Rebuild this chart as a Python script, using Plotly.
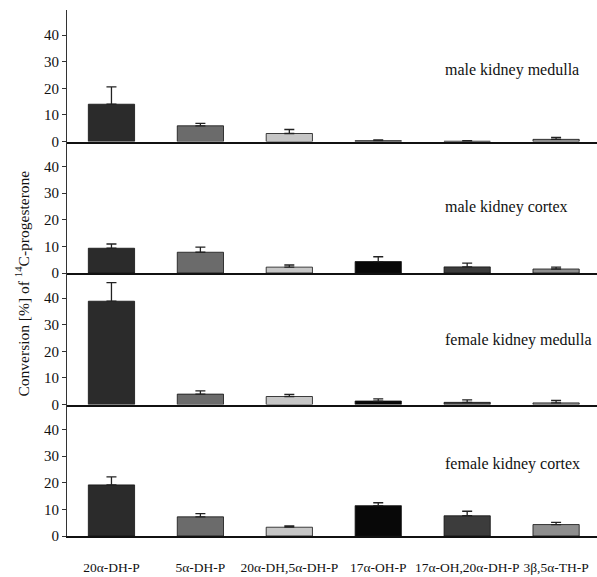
import plotly.graph_objects as go
from plotly.subplots import make_subplots

categories = ["20α-DH-P", "5α-DH-P", "20α-DH,5α-DH-P", "17α-OH-P", "17α-OH,20α-DH-P", "3β,5α-TH-P"]
panel_titles = ["male kidney medulla", "male kidney cortex", "female kidney medulla", "female kidney cortex"]

male_medulla = [14.0, 5.9, 3.0, 0.3, 0.1, 0.8]
male_medulla_err = [6.5, 0.9, 1.5, 0.3, 0.2, 0.7]
male_cortex = [9.3, 7.8, 2.2, 4.3, 2.3, 1.5]
male_cortex_err = [1.6, 1.9, 0.8, 1.8, 1.4, 0.7]
female_medulla = [38.8, 3.9, 3.0, 1.3, 0.8, 0.6]
female_medulla_err = [7.0, 1.2, 0.8, 0.8, 0.9, 0.9]
female_cortex = [19.2, 7.2, 3.3, 11.4, 7.6, 4.3]
female_cortex_err = [3.0, 1.2, 0.5, 1.1, 1.7, 0.8]

values = [male_medulla, male_cortex, female_medulla, female_cortex]
errors = [male_medulla_err, male_cortex_err, female_medulla_err, female_cortex_err]
label_y = [27, 24.7, 24.3, 27]

bar_colors = ["#2b2b2b", "#6b6b6b", "#c6c6c6", "#080808", "#3c3c3c", "#8e8e8e"]
serif = "Liberation Serif"

fig = make_subplots(rows=4, cols=1, shared_xaxes=True, vertical_spacing=0)

for i in range(4):
    fig.add_trace(go.Bar(
        x=categories, y=values[i],
        marker=dict(color=bar_colors, line=dict(color="#111111", width=0.8)),
        width=0.52,
        error_y=dict(type="data", array=errors[i], symmetric=False,
                     arrayminus=[0] * 6, color="#222222", thickness=1.3, width=5),
        showlegend=False,
    ), row=i + 1, col=1)
    fig.update_yaxes(range=[0, 49.4], tickvals=[0, 10, 20, 30, 40],
                     showgrid=False, zeroline=False, showline=True,
                     linecolor="#333333", linewidth=1, ticks="outside",
                     ticklen=4, tickcolor="#333333",
                     tickfont=dict(family=serif, size=15, color="#111111"),
                     row=i + 1, col=1)
    fig.update_xaxes(range=[-0.5, 5.46], showgrid=False, zeroline=False,
                     showline=True, linecolor="#111111", linewidth=1.5,
                     ticks="", row=i + 1, col=1)
    fig.add_annotation(x=3.73, y=label_y[i], xref=f"x{'' if i == 0 else i + 1}",
                       yref=f"y{'' if i == 0 else i + 1}", text=panel_titles[i],
                       showarrow=False, xanchor="left", yanchor="middle",
                       font=dict(family=serif, size=16, color="#111111"))

fig.update_xaxes(showticklabels=False)
fig.update_xaxes(showticklabels=True, ticklabelstandoff=18,
                 tickfont=dict(family=serif, size=13.5, color="#111111"), row=4, col=1)

fig.add_annotation(x=-0.085, y=0.48, xref="paper", yref="paper",
                   text="Conversion [%] of <sup>14</sup>C-progesterone",
                   textangle=-90, showarrow=False, xanchor="center", yanchor="middle",
                   font=dict(family=serif, size=15.5, color="#111111"))

fig.update_layout(width=597, height=577, margin=dict(l=67, r=0, t=10, b=41),
                  plot_bgcolor="white", paper_bgcolor="white", bargap=0.48)

fig.write_html("out.html")
